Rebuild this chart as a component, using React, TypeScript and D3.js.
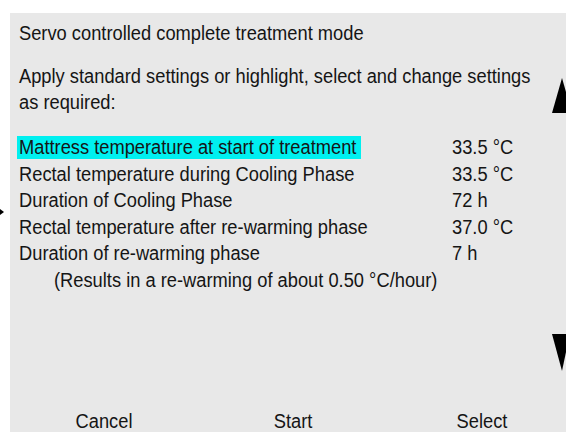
import React from "react";
import * as d3 from "d3";

const title = "Servo controlled complete treatment mode";
const instructions = ["Apply standard settings or highlight, select and change settings", "as required:"];
const settingLabels = [
  "Mattress temperature at start of treatment",
  "Rectal temperature during Cooling Phase",
  "Duration of Cooling Phase",
  "Rectal temperature after re-warming phase",
  "Duration of re-warming phase",
];
const settingValues = ["33.5 °C", "33.5 °C", "72 h", "37.0 °C", "7 h"];
const note = "(Results in a re-warming of about 0.50 °C/hour)";
const buttons = ["Cancel", "Start", "Select"];
const highlighted = 0;

const W = 566;
const H = 432;
const FONT = "'Liberation Sans', Arial, sans-serif";
const FS = 20;
const SX = 0.915;

function T({ x, y, children, anchor = "start" }: { x: number; y: number; children: React.ReactNode; anchor?: string }) {
  return (
    <g transform={`translate(${x},${y}) scale(${SX},1)`}>
      <text x={0} y={0} fontSize={FS} fill="#151515" textAnchor={anchor as any}>
        {children}
      </text>
    </g>
  );
}

export default function App() {
  const rowY = d3
    .scalePoint<number>()
    .domain(d3.range(settingLabels.length + 1))
    .range([154, 287]);
  const btnX = d3.scalePoint<string>().domain(buttons).range([104, 482]);

  return (
    <svg
      width={W}
      height={H}
      style={{ position: "fixed", left: 0, top: 0, display: "block" }}
      fontFamily={FONT}
    >
      <rect x={0} y={0} width={W} height={H} fill="#ffffff" />
      <rect x={10} y={13} width={W - 10} height={H - 13} fill="#e8e8e8" />
      <T x={19} y={40}>{title}</T>
      {instructions.map((t, i) => (
        <T key={i} x={19} y={83 + i * 26}>{t}</T>
      ))}
      <rect x={17} y={rowY(highlighted)! - 18} width={344} height={23} fill="#00f0f0" />
      {settingLabels.map((t, i) => (
        <g key={i}>
          <T x={19} y={rowY(i)!}>{t}</T>
          <T x={452} y={rowY(i)!}>{settingValues[i]}</T>
        </g>
      ))}
      <T x={54} y={rowY(settingLabels.length)!}>{note}</T>
      <path d="M552,113 L562,78 L566,92 L566,113 Z" fill="#000" />
      <path d="M552,334 L566,334 L566,352 L562,371 Z" fill="#000" />
      <path d="M0,209 L4,212 L0,215 Z" fill="#000" />
      {buttons.map((b) => (
        <T key={b} x={btnX(b)!} y={428} anchor="middle">{b}</T>
      ))}
    </svg>
  );
}
